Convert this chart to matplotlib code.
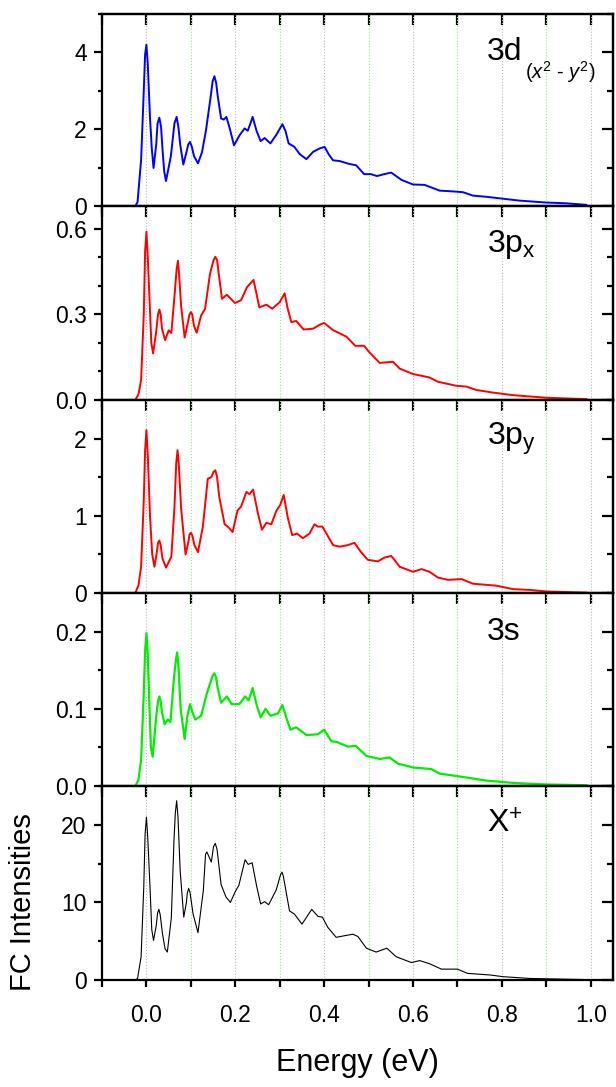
import matplotlib
matplotlib.use('Agg')
import matplotlib.pyplot as plt
from matplotlib.ticker import MultipleLocator, NullFormatter, FixedLocator

plt.rcParams['font.family'] = ['Liberation Sans', 'DejaVu Sans']
plt.rcParams['mathtext.fontset'] = 'custom'
plt.rcParams['mathtext.rm'] = 'Liberation Sans'
plt.rcParams['mathtext.it'] = 'Liberation Sans:italic'

# 3d(x2-y2) channel (blue)
d_x = [-0.025, -0.02, -0.012, -0.006, 0.0, 0.008, 0.016, 0.022, 0.029, 0.036,
       0.044, 0.055, 0.068, 0.076, 0.083, 0.09, 0.098, 0.107, 0.116, 0.125,
       0.134, 0.144, 0.153, 0.16, 0.168, 0.174, 0.18, 0.188, 0.197, 0.21,
       0.221, 0.228, 0.234, 0.239, 0.248, 0.257, 0.266, 0.279, 0.292, 0.306,
       0.313, 0.32, 0.333, 0.345, 0.36, 0.375, 0.39, 0.401, 0.41, 0.42,
       0.435, 0.455, 0.472, 0.49, 0.505, 0.519, 0.535, 0.551, 0.574, 0.6,
       0.626, 0.66, 0.69, 0.712, 0.735, 0.765, 0.795, 0.84, 0.9, 0.945, 0.99]
d_y = [0, 0.1, 1.2, 3.0, 4.2, 2.3, 0.99, 1.6, 2.3, 1.5,
       0.65, 1.3, 2.32, 1.6, 1.08, 1.4, 1.67, 1.3, 1.11, 1.4,
       1.97, 2.8, 3.38, 2.9, 2.28, 2.25, 2.32, 2.0, 1.58, 1.85,
       2.02, 1.96, 2.15, 2.32, 1.95, 1.69, 1.77, 1.63, 1.85, 2.13,
       1.95, 1.63, 1.54, 1.35, 1.22, 1.41, 1.5, 1.54, 1.35, 1.19,
       1.17, 1.1, 1.06, 0.83, 0.83, 0.78, 0.83, 0.87, 0.68, 0.56,
       0.55, 0.40, 0.38, 0.36, 0.27, 0.24, 0.20, 0.14, 0.09, 0.07, 0.03]
d_px = [-0.003, 0.003, 0.012, 0.025, 0.033, 0.040, 0.063, 0.072, 0.094, 0.102, 0.149, 0.157]
d_py = [3.95, 3.7, 1.5, 2.15, 2.05, 0.9, 2.15, 2.05, 1.6, 1.55, 3.25, 3.2]

# 3px channel (red)
px_x = [-0.025, -0.018, -0.012, -0.006, 0.0, 0.007, 0.015, 0.022, 0.029, 0.035,
        0.042, 0.05, 0.056, 0.064, 0.071, 0.078, 0.086, 0.093, 0.1, 0.107,
        0.113, 0.123, 0.132, 0.143, 0.155, 0.162, 0.17, 0.181, 0.199, 0.213,
        0.226, 0.241, 0.248, 0.254, 0.27, 0.283, 0.3, 0.311, 0.318, 0.326,
        0.337, 0.354, 0.375, 0.39, 0.40, 0.42, 0.45, 0.47, 0.49, 0.50,
        0.525, 0.555, 0.57, 0.60, 0.637, 0.656, 0.697, 0.72, 0.743, 0.78,
        0.825, 0.90, 0.99]
px_y = [0, 0.02, 0.07, 0.3, 0.59, 0.35, 0.163, 0.24, 0.317, 0.25,
        0.21, 0.244, 0.235, 0.38, 0.488, 0.33, 0.219, 0.27, 0.308, 0.26,
        0.236, 0.296, 0.32, 0.442, 0.502, 0.45, 0.355, 0.369, 0.34, 0.35,
        0.395, 0.421, 0.37, 0.325, 0.334, 0.32, 0.343, 0.374, 0.32, 0.273,
        0.277, 0.247, 0.25, 0.264, 0.27, 0.245, 0.222, 0.19, 0.19, 0.17,
        0.13, 0.134, 0.11, 0.091, 0.079, 0.064, 0.05, 0.047, 0.035, 0.026,
        0.017, 0.008, 0.003]
px_px = [-0.003, 0.003, 0.011, 0.026, 0.032, 0.068, 0.074, 0.097, 0.103, 0.151, 0.159]
px_py = [0.52, 0.5, 0.2, 0.3, 0.3, 0.46, 0.43, 0.3, 0.3, 0.49, 0.49]

# 3py channel (red)
py_x = [-0.025, -0.018, -0.012, -0.006, 0.0, 0.008, 0.018, 0.024, 0.029, 0.036,
        0.044, 0.056, 0.063, 0.07, 0.078, 0.088, 0.094, 0.1, 0.108, 0.116,
        0.127, 0.138, 0.146, 0.155, 0.164, 0.176, 0.183, 0.194, 0.205, 0.213,
        0.225, 0.232, 0.24, 0.251, 0.26, 0.27, 0.281, 0.292, 0.301, 0.309,
        0.318, 0.328, 0.339, 0.352, 0.367, 0.378, 0.386, 0.396, 0.405, 0.42,
        0.435, 0.453, 0.468, 0.483, 0.498, 0.521, 0.536, 0.551, 0.57, 0.60,
        0.619, 0.637, 0.656, 0.679, 0.709, 0.735, 0.788, 0.825, 0.863, 0.90, 0.99]
py_y = [0, 0.1, 0.34, 1.2, 2.11, 1.0, 0.34, 0.55, 0.68, 0.45,
        0.33, 0.47, 1.1, 1.85, 1.1, 0.50, 0.65, 0.78, 0.62, 0.53,
        0.86, 1.48, 1.50, 1.59, 1.24, 0.89, 0.86, 0.79, 1.07, 1.12,
        1.31, 1.28, 1.34, 1.03, 0.82, 0.91, 0.89, 1.06, 1.14, 1.27,
        0.98, 0.75, 0.77, 0.71, 0.77, 0.89, 0.86, 0.86, 0.77, 0.62,
        0.60, 0.62, 0.65, 0.53, 0.43, 0.41, 0.46, 0.48, 0.34, 0.275,
        0.31, 0.275, 0.20, 0.17, 0.18, 0.12, 0.095, 0.05, 0.04, 0.02, 0.005]
py_px = [-0.003, 0.003, 0.013, 0.026, 0.032, 0.067, 0.073, 0.097, 0.103, 0.151, 0.159]
py_py = [1.85, 1.8, 0.5, 0.65, 0.62, 1.68, 1.65, 0.76, 0.75, 1.57, 1.5]

# 3s channel (green)
s_x = [-0.025, -0.018, -0.012, -0.006, 0.0, 0.007, 0.014, 0.022, 0.029, 0.035,
       0.041, 0.048, 0.054, 0.062, 0.069, 0.077, 0.086, 0.092, 0.098, 0.104,
       0.11, 0.123, 0.136, 0.153, 0.16, 0.168, 0.181, 0.192, 0.209, 0.222,
       0.23, 0.239, 0.248, 0.257, 0.268, 0.279, 0.296, 0.306, 0.315, 0.324,
       0.337, 0.36, 0.386, 0.40, 0.416, 0.429, 0.453, 0.471, 0.495, 0.525,
       0.547, 0.566, 0.60, 0.641, 0.66, 0.697, 0.72, 0.765, 0.825, 0.90, 0.99]
s_y = [0, 0.008, 0.034, 0.12, 0.198, 0.1, 0.038, 0.09, 0.116, 0.095,
       0.08, 0.086, 0.083, 0.14, 0.173, 0.1, 0.061, 0.09, 0.106, 0.095,
       0.086, 0.091, 0.12, 0.146, 0.128, 0.108, 0.116, 0.106, 0.106, 0.116,
       0.111, 0.127, 0.105, 0.089, 0.1, 0.091, 0.094, 0.105, 0.088, 0.073,
       0.076, 0.066, 0.067, 0.073, 0.058, 0.057, 0.051, 0.052, 0.039, 0.035,
       0.037, 0.029, 0.024, 0.022, 0.016, 0.013, 0.011, 0.007, 0.004, 0.002, 0.001]
s_px = [-0.003, 0.003, 0.010, 0.026, 0.032, 0.066, 0.072, 0.149, 0.157]
s_py = [0.175, 0.17, 0.05, 0.11, 0.11, 0.162, 0.155, 0.143, 0.14]

# total cation X+ (black)
x_x = [-0.025, -0.02, -0.012, -0.006, 0.0, 0.008, 0.016, 0.022, 0.028, 0.036,
       0.047, 0.056, 0.062, 0.068, 0.076, 0.084, 0.09, 0.095, 0.105, 0.116,
       0.128, 0.136, 0.146, 0.155, 0.168, 0.179, 0.189, 0.2, 0.208, 0.222,
       0.229, 0.238, 0.248, 0.257, 0.266, 0.275, 0.292, 0.305, 0.322, 0.333,
       0.35, 0.372, 0.386, 0.396, 0.408, 0.427, 0.45, 0.465, 0.476, 0.495,
       0.517, 0.541, 0.562, 0.596, 0.615, 0.637, 0.664, 0.70, 0.723, 0.773,
       0.802, 0.863, 0.99]
x_y = [0, 0.2, 3.0, 12.0, 21.0, 12.0, 5.1, 7.0, 9.1, 6.0,
       3.6, 8.0, 18.0, 23.1, 14.0, 8.1, 10.0, 11.8, 8.5, 6.1,
       11.5, 16.5, 15.2, 17.6, 12.3, 10.7, 10.0, 11.4, 12.2, 15.5,
       14.9, 15.1, 12.1, 9.8, 10.1, 9.7, 11.6, 13.9, 8.9, 8.5,
       7.2, 9.1, 8.2, 8.1, 6.8, 5.5, 5.75, 5.9, 5.6, 4.1,
       3.6, 4.1, 3.0, 2.25, 2.5, 2.1, 1.4, 1.4, 0.85, 0.65,
       0.43, 0.2, 0.05]
x_px = [-0.003, 0.003, 0.012, 0.025, 0.031, 0.042, 0.065, 0.071, 0.092, 0.098, 0.133, 0.151, 0.159, 0.302, 0.308]
x_py = [18.8, 18.3, 6.5, 8.6, 8.4, 4.0, 21.5, 21.0, 11.2, 11.3, 16.2, 17.2, 16.8, 13.6, 13.4]

labels = ['3d', r'3p$_{\mathrm{x}}$', r'3p$_{\mathrm{y}}$', '3s', r'X$^{+}$']
series = [(d_x + d_px, d_y + d_py), (px_x + px_px, px_y + px_py),
          (py_x + py_px, py_y + py_py), (s_x + s_px, s_y + s_py),
          (x_x + x_px, x_y + x_py)]
colors = ['#0000ff', '#ff0000', '#ff0000', '#00ee00', '#000000']
widths = [1.4, 1.4, 1.4, 1.6, 0.8]
ylims = [5, 0.68, 2.5, 0.25, 25]
ymajor = [2, 0.3, 1, 0.1, 10]
yminor = [1, 0.1, 0.5, 0.05, 5]
yfmt = ['%d', '%.1f', '%d', '%.1f', '%d']

W, H = 616, 1087
fig = plt.figure(figsize=(W / 100, H / 100), dpi=100)

edges = [14, 206, 400, 593, 786, 980]
left, right = 102, 613

for i in range(5):
    top, bot = edges[i], edges[i + 1]
    ax = fig.add_axes([left / W, 1 - bot / H, (right - left) / W, (bot - top) / H])
    pts = sorted(zip(series[i][0], series[i][1]))
    ax.plot([p[0] for p in pts], [p[1] for p in pts], color=colors[i],
            lw=widths[i], solid_joinstyle='round')
    ax.set_xlim(-0.1, 1.05)
    ax.set_ylim(0, ylims[i])

    ax.xaxis.set_major_locator(FixedLocator([0.0, 0.2, 0.4, 0.6, 0.8, 1.0]))
    ax.xaxis.set_minor_locator(FixedLocator([-0.1, 0.1, 0.3, 0.5, 0.7, 0.9]))
    ax.xaxis.set_minor_formatter(NullFormatter())
    ax.yaxis.set_major_locator(MultipleLocator(ymajor[i]))
    ax.yaxis.set_minor_locator(MultipleLocator(yminor[i]))
    ax.yaxis.set_major_formatter(plt.FormatStrFormatter(yfmt[i]))

    ax.grid(axis='x', which='major', color='#b8b8b8', ls=':', lw=0.8)
    ax.grid(axis='x', which='minor', color='#88ee88', ls=':', lw=0.8)
    ax.set_axisbelow(True)

    ax.tick_params(axis='both', which='both', width=1.6, labelsize=16.5)
    ax.tick_params(axis='y', which='major', direction='out', length=6, pad=5)
    ax.tick_params(axis='y', which='minor', direction='out', length=3)
    ax.tick_params(axis='x', which='both', direction='out', length=5, pad=12)
    if i < 4:
        ax.tick_params(axis='x', labelbottom=False)
    for sp in ax.spines.values():
        sp.set_linewidth(1.6)

    # inward ticks on the top and right
    sx = ax.secondary_xaxis('top')
    sx.xaxis.set_major_locator(MultipleLocator(0.1))
    sx.tick_params(direction='in', length=8, width=1.6, labeltop=False)
    sx.spines['top'].set_linewidth(1.6)
    sy = ax.secondary_yaxis('right')
    sy.yaxis.set_major_locator(MultipleLocator(ymajor[i]))
    sy.yaxis.set_minor_locator(MultipleLocator(yminor[i]))
    sy.tick_params(which='major', direction='in', length=8, width=1.6, labelright=False)
    sy.tick_params(which='minor', direction='in', length=4, width=1.6)
    sy.spines['right'].set_linewidth(1.6)

    ax.text(0.753, 0.80, labels[i], transform=ax.transAxes, fontsize=23,
            ha='left', va='center')
    if i == 0:
        ax.text(0.828, 0.70, r'($x^{2}$ - $y^{2}$)', transform=ax.transAxes,
                fontsize=14.5, ha='left', va='center')

fig.text((left + right) / 2 / W, 1 - 1063 / H, 'Energy (eV)', fontsize=22,
         ha='center', va='center')
fig.text(23 / W, 1 - 902 / H, 'FC Intensities', fontsize=21, rotation=90,
         ha='center', va='center')

fig.savefig('out.png', dpi=100)
